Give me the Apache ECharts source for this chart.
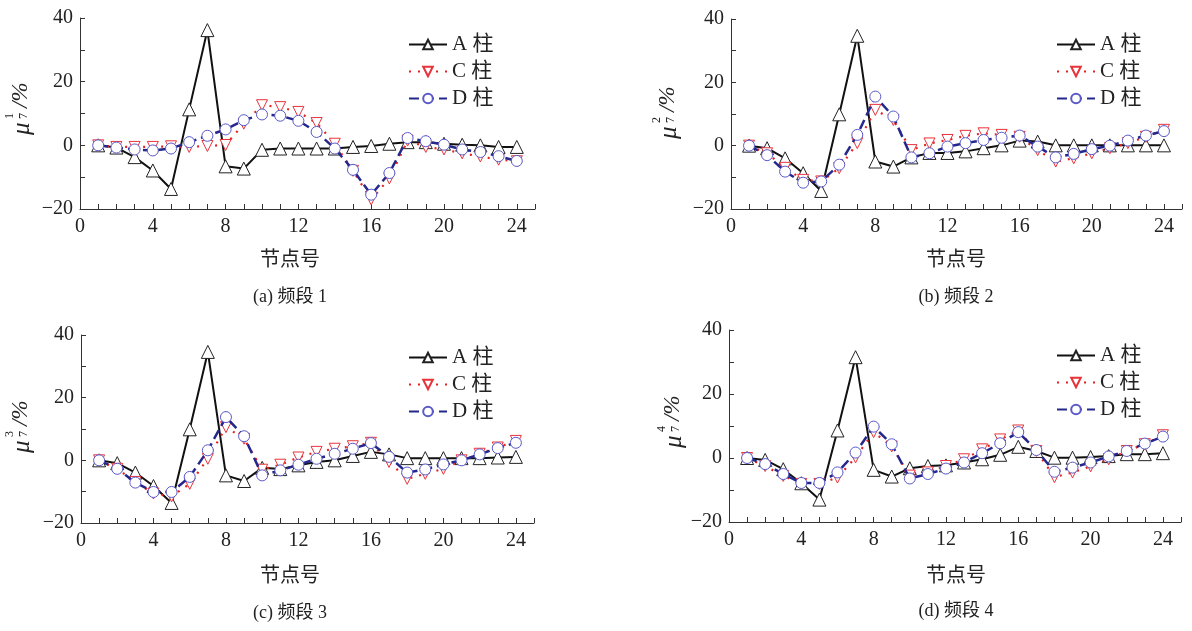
<!DOCTYPE html>
<html lang="zh">
<head>
<meta charset="UTF-8">
<title>节点号</title>
<script src="https://cdn.jsdelivr.net/npm/echarts@6/dist/echarts.min.js"></script>
<style>
    html, body { margin: 0; padding: 0; background: #fff; }
    #chart { width: 1192px; height: 631px; }
</style>
</head>
<body>
<div id="chart"></div>
<script>
    const nodes = [1, 2, 3, 4, 5, 6, 7, 8, 9, 10, 11, 12, 13, 14, 15, 16, 17, 18, 19, 20, 21, 22, 23, 24];
    const seriesNames = ['A 柱', 'C 柱', 'D 柱'];
    const xTickLabels = [0, 4, 8, 12, 16, 20, 24];
    const yTickLabels = [-20, 0, 20, 40];

    // 频段 1
    const band1A = [0, -0.7, -3.7, -7.9, -13.7, 11.3, 36.2, -6.6, -7.3, -1.4, -1, -1, -1, -1, -0.5, -0.2, 0.5, 1, 1, 0.5, 0.2, 0, -0.5, -0.5];
    const band1C = [0, -0.5, -0.5, -0.5, -0.3, -0.5, -0.2, 0.1, 6.8, 12.6, 12, 10.5, 7, 0.5, -8, -17, -10.4, 1.5, -0.5, -1.3, -2.5, -3.5, -4.5, -5];
    const band1D = [0, -0.7, -1.3, -1.6, -1, 1, 3, 5, 7.9, 9.7, 9.3, 7.7, 4.2, -1, -7.7, -15.5, -8.7, 2.3, 1.3, 0.2, -1.3, -2.1, -3.4, -4.9];
    // 频段 2
    const band2A = [0, -0.8, -4, -8.7, -14.3, 9.9, 34.7, -5, -6.6, -3.7, -2.3, -2.3, -1.8, -0.8, 0.1, 1.6, 1.3, 0.1, 0.1, 0.1, 0.1, 0.1, 0.1, 0.1];
    const band2C = [0, -2.4, -7, -10.8, -11.3, -7.1, 0.8, 11.3, 8.1, -1.4, 0.7, 1.8, 3.1, 3.9, 3.4, 2.8, -1.4, -5, -4, -2.4, -0.8, 0.8, 2.8, 5];
    const band2D = [0, -3, -8.2, -11.7, -11.3, -6, 3.4, 15.5, 9.2, -3.7, -2.4, -0.3, 0.8, 1.8, 2.5, 3.2, -0.3, -3.7, -2.6, -1.1, 0, 1.6, 3.2, 4.6];
    // 频段 3
    const band3A = [0, -0.9, -3.9, -8.2, -13.6, 9.9, 34.6, -4.8, -6.6, -2.4, -2.8, -1.6, -0.5, 0, 1.4, 2.7, 1.9, 0.7, 0.7, 0.7, 0.7, 0.7, 0.9, 1.1];
    const band3C = [0, -2.7, -6.9, -10.6, -11.5, -7.5, 0.5, 10.6, 6.9, -3, -1.4, 0.9, 2.7, 3.7, 4.5, 5.6, -0.5, -5.9, -4.3, -2.7, 0, 2.1, 4.1, 6.2];
    const band3D = [0, -2.7, -7.1, -10.1, -10.1, -5.3, 3.2, 13.8, 7.7, -4.8, -3.2, -1.4, 0.5, 2.1, 3.7, 5.5, 1.1, -3.9, -2.9, -1.3, 0, 1.9, 3.9, 5.6];
    // 频段 4
    const band4A = [0, -0.6, -3.5, -7.9, -13, 8.6, 31.5, -3.7, -5.8, -3.2, -2.5, -2.3, -1.4, -0.4, 1, 3.5, 2.2, 0.1, 0.1, 0.3, 0.6, 1.2, 1.2, 1.5];
    const band4C = [0, -2.5, -5.6, -8.1, -8.1, -6.1, 0.2, 8.1, 3.6, -5.5, -4.5, -2.5, -0.4, 2.7, 5.8, 8.6, 2.2, -6, -4.5, -2.6, -0.4, 2.2, 4.3, 7.1];
    const band4D = [0, -1.9, -5, -7.8, -7.8, -4.5, 1.7, 9.8, 4.3, -6.4, -5, -3.3, -1.4, 1.5, 4.6, 8.1, 2.5, -4.3, -3, -1.4, 0.5, 2.2, 4.5, 6.7];

    const bands = [
        [band1A, band1C, band1D],
        [band2A, band2C, band2D],
        [band3A, band3C, band3D],
        [band4A, band4C, band4D]
    ];
    const captions = ['(a) 频段 1', '(b) 频段 2', '(c) 频段 3', '(d) 频段 4'];
    const supNums = ['1', '2', '3', '4'];

    // panel layout (pixels)
    const panels = [
        { left: 80, top: 18, width: 455, height: 191, legend: [403, 29], muX: 22, muY: 135, capX: 290, nameY: 261, capY: 297 },
        { left: 731, top: 19, width: 451, height: 190, legend: [1051, 29], muX: 669, muY: 139, capX: 956, nameY: 261, capY: 297 },
        { left: 81, top: 335, width: 453, height: 188, legend: [403, 342], muX: 22, muY: 453, capX: 290, nameY: 577, capY: 613 },
        { left: 729, top: 330, width: 452, height: 192, legend: [1051, 340], muX: 674, muY: 448, capX: 956, nameY: 577, capY: 611 }
    ];

    const serif = '"Liberation Serif", "DejaVu Serif", serif';
    const cjk = '"Liberation Serif", "Noto Sans CJK SC", serif';
    const axisColor = '#333';

    // hollow markers: white fill, thin coloured border
    const styles = [
        { symbol: 'triangle', size: 13, rotate: 0, border: '#222', line: '#111', type: 'solid', width: 2 },
        { symbol: 'triangle', size: 11, rotate: 180, border: '#e8333a', line: '#e52222', type: [2, 7], width: 2.2 },
        { symbol: 'circle', size: 11, rotate: 0, border: '#5a5ac8', line: '#24288c', type: [10, 5], width: 2.5 }
    ];

    const grid = [], xAxis = [], yAxis = [], series = [], legend = [], graphic = [];

    panels.forEach(function (p, k) {
        grid.push({ left: p.left, top: p.top, width: p.width, height: p.height });
        xAxis.push({
            type: 'value', gridIndex: k, min: 0, max: 25, interval: 1,
            axisLine: { onZero: false, lineStyle: { color: axisColor, width: 1 } },
            axisTick: { inside: true, length: 5, lineStyle: { color: axisColor } },
            splitLine: { show: false },
            axisLabel: {
                color: '#222', fontFamily: serif, fontSize: 20, margin: 8,
                formatter: function (v) { return xTickLabels.indexOf(v) >= 0 ? String(v) : ''; }
            }
        });
        yAxis.push({
            type: 'value', gridIndex: k, min: -20, max: 40, interval: 10,
            axisLine: { show: true, onZero: false, lineStyle: { color: axisColor, width: 1 } },
            axisTick: { show: true, inside: true, length: 5, lineStyle: { color: axisColor } },
            splitLine: { show: false },
            axisLabel: {
                color: '#222', fontFamily: serif, fontSize: 20, margin: 7,
                formatter: function (v) {
                    if (yTickLabels.indexOf(v) < 0) return '';
                    return v < 0 ? '\u2212' + (-v) : String(v);
                }
            }
        });
        bands[k].forEach(function (vals, s) {
            const st = styles[s];
            series.push({
                name: seriesNames[s], type: 'line', xAxisIndex: k, yAxisIndex: k,
                data: nodes.map(function (n, i) { return [n, vals[i]]; }),
                symbol: st.symbol, symbolSize: st.size, symbolRotate: st.rotate,
                itemStyle: { color: '#fff', borderColor: st.border, borderWidth: 1 },
                lineStyle: { color: st.line, type: st.type, width: st.width },
                z: 2 + s,
                animation: false
            });
        });
        legend.push({
            orient: 'vertical', left: p.legend[0], top: p.legend[1],
            data: seriesNames, itemWidth: 38, itemHeight: 12, itemGap: 6,
            textStyle: { fontFamily: cjk, fontSize: 21, color: '#222' }
        });

        // y axis name  mu_7^n /%
        graphic.push({
            type: 'group', x: p.muX, y: p.muY, rotation: Math.PI / 2,
            children: [
                { type: 'text', x: 0, y: 0, style: { text: 'μ', font: 'italic 25px ' + serif, fill: '#222', verticalAlign: 'middle' } },
                { type: 'text', x: 16, y: -12, style: { text: supNums[k], font: '12px ' + serif, fill: '#222', verticalAlign: 'middle' } },
                { type: 'text', x: 16, y: 2, style: { text: '7', font: '12px ' + serif, fill: '#222', verticalAlign: 'middle' } },
                { type: 'text', x: 27, y: -1, style: { text: '/%', font: 'italic 23px ' + serif, fill: '#222', verticalAlign: 'middle' } }
            ]
        });
        graphic.push({
            type: 'text', x: p.capX, y: p.nameY,
            style: { text: '节点号', font: '20px ' + cjk, fill: '#222', align: 'center', verticalAlign: 'middle' }
        });
        graphic.push({
            type: 'text', x: p.capX, y: p.capY,
            style: { text: captions[k], font: '18px ' + cjk, fill: '#222', align: 'center', verticalAlign: 'middle' }
        });
    });

    const chart = echarts.init(document.getElementById('chart'));
    chart.setOption({
        backgroundColor: '#fff',
        animation: false,
        grid: grid,
        xAxis: xAxis,
        yAxis: yAxis,
        legend: legend,
        series: series,
        graphic: graphic
    });
</script>
</body>
</html>
